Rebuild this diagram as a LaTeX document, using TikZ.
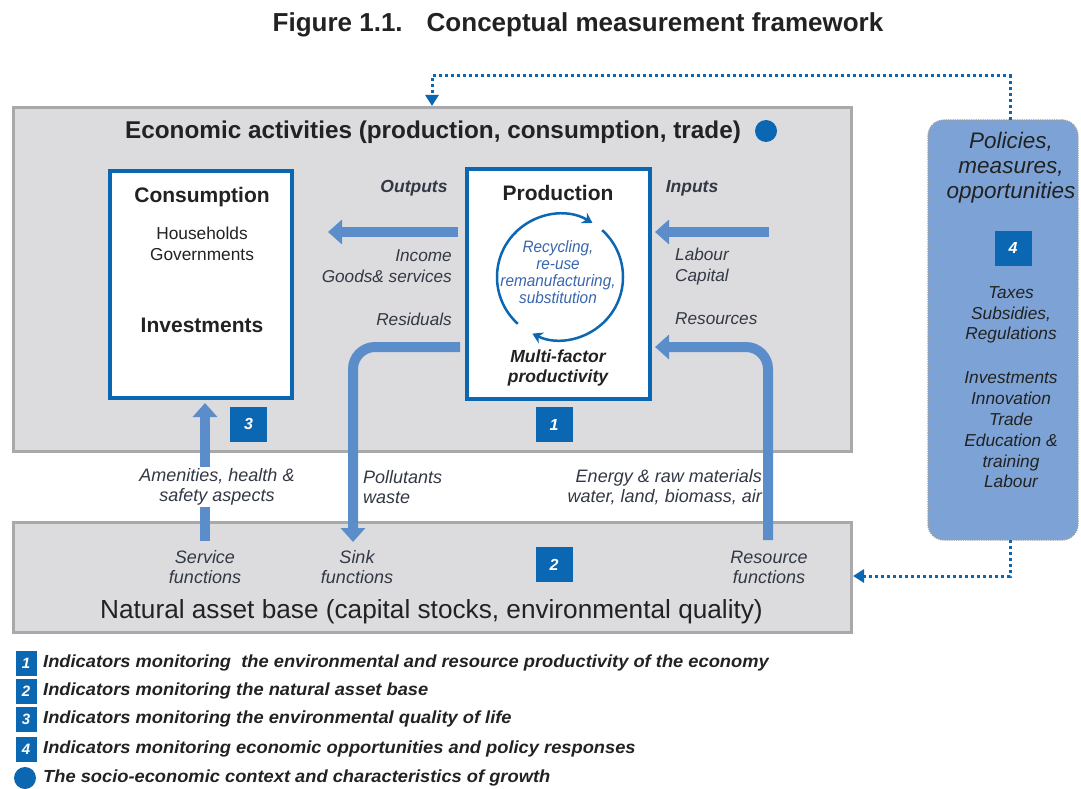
\documentclass[tikz,border=0pt]{standalone}
\usepackage{fontspec}
\setmainfont{Liberation Sans}
\newfontfamily\cnar[FakeStretch=0.93]{Liberation Sans}
\newfontfamily\wid[FakeStretch=1.045]{Liberation Sans}
\usetikzlibrary{arrows.meta,calc}
\definecolor{bggray}{HTML}{DCDCDF}
\definecolor{boxgray}{HTML}{A9A9AB}
\definecolor{darkblue}{HTML}{0B67B2}
\definecolor{lightblue}{HTML}{5A8DCA}
\definecolor{polblue}{HTML}{7DA3D6}
\definecolor{txt}{HTML}{222222}
\definecolor{lbl}{HTML}{333845}
\definecolor{circtxt}{HTML}{3A66AE}
\newcommand\fsz[2]{\fontsize{#1}{#2}\selectfont}
\tikzset{
  bigbox/.style={draw=boxgray, line width=3pt, fill=bggray, inner sep=0},
  unitbox/.style={draw=darkblue, line width=4pt, fill=white, inner sep=0},
  numbox/.style={fill=darkblue, text=white, font=\bfseries\itshape\fsz{16}{16}, minimum width=37pt, minimum height=35pt, inner sep=0},
  legbox/.style={fill=darkblue, text=white, font=\bfseries\itshape\fsz{15}{15}, minimum width=21pt, minimum height=25pt, inner sep=0},
  legtext/.style={anchor=west, font=\bfseries\itshape\wid\fsz{17.5}{19}, text=txt, inner sep=0},
  flow/.style={draw=lightblue, line width=10pt, -{Triangle[width=24pt,length=14pt]}},
  dotline/.style={draw=darkblue, line width=3pt, dash pattern=on 3pt off 3pt, -{Triangle[width=13pt,length=11pt]}},
  circarrow/.style={draw=darkblue, line width=2.5pt, -{Stealth[width=12pt,length=10pt]}},
  lab/.style={font=\itshape\fsz{17.2}{21}, text=lbl, inner sep=1pt},
  labb/.style={font=\itshape\fsz{18}{20}, text=lbl, inner sep=1pt},
  headlab/.style={font=\bfseries\itshape\fsz{17.5}{18}, text=lbl, inner sep=1pt},
  boxhead/.style={font=\bfseries\fsz{21}{22}, text=txt, inner sep=0},
  poltext/.style={font=\itshape\fsz{17.3}{20.8}, text=txt, align=center, inner sep=0}
}
\begin{document}
\begin{tikzpicture}[x=1pt,y=-1pt]
\useasboundingbox (0,0) rectangle (1081,789);

% title
\node[font=\bfseries\fsz{26}{30}, text=txt] (title) at (578,25) {Figure 1.1.\hspace{24pt}Conceptual measurement framework};

% big boxes
\node[bigbox, minimum width=838pt, minimum height=343pt] (econ) at (432,279.5) {};
\node[bigbox, minimum width=838pt, minimum height=110pt] (nat) at (432,577) {};

% policies box
\node[draw=gray!75, densely dotted, line width=1.3pt, fill=polblue, rounded corners=16pt,
      minimum width=150pt, minimum height=420pt, inner sep=0] (pol) at (1003,330) {};

\node[font=\bfseries\fsz{24.3}{28}, text=txt] (econtitle) at (433,132) {Economic activities (production, consumption, trade)};
\node[circle, fill=darkblue, minimum size=22pt, inner sep=0] (dot) at (766,131) {};

% unit boxes
\node[unitbox, minimum width=182pt, minimum height=227pt] (consbox) at (201,284.5) {};
\node[unitbox, minimum width=183pt, minimum height=230pt] (prodbox) at (558.5,284) {};

\node[boxhead] (cons) at (202,197) {Consumption};
\node[font=\fsz{17.3}{20.5}, text=txt, align=center, inner sep=0] (hh) at (202,244) {Households\\Governments};
\node[boxhead] (inv) at (202,325) {Investments};

\node[boxhead] (prod) at (558,193) {Production};
\coordinate (cc) at (560,277);
\draw[circarrow] ($(cc)+(132:63)$) arc[start angle=132, end angle=301, radius=63];
\draw[circarrow] ($(cc)+(312:63)$) arc[start angle=312, end angle=476, radius=63];
\node[font=\cnar\itshape\fsz{16.5}{17}, text=circtxt, align=center, inner sep=0] (rec) at (558,272) {Recycling,\\re-use\\remanufacturing,\\substitution};
\node[font=\bfseries\itshape\fsz{17.5}{20}, text=txt, align=center, inner sep=0] (mfp) at (558,368) {Multi-factor\\productivity};

% numbered boxes
\node[numbox] (n3) at (248.5,424) {3};
\node[numbox] (n1) at (554,424.5) {1};
\node[numbox] (n2) at (554,564.5) {2};
\node[numbox] (n4) at (1013,248) {4};

% flows
\coordinate (outR) at (458,232);
\coordinate (outL) at (328,232);
\coordinate (inR) at (769,232);
\coordinate (inL) at (655,232);
\coordinate (resS) at (460,347);
\coordinate (sink) at (353,542);
\coordinate (srcB) at (768,540);
\coordinate (srcT) at (655,347);
\coordinate (amB) at (205,541);
\coordinate (amT) at (205,403);
\draw[flow] (outR) -- (outL);
\draw[flow] (inR) -- (inL);
\draw[flow, rounded corners=22pt] (resS) -| (sink);
\draw[flow, rounded corners=22pt] (srcB) |- (srcT);
\draw[flow] (amB) -- (amT);

% labels around production
\node[headlab] (outputs) at (414,188) {Outputs};
\node[headlab] (inputs) at (692,188) {Inputs};
\node[lab, anchor=east, align=right] (income) at (453,266.5) {Income\\Goods\& services};
\node[lab, anchor=east] (resid) at (453,319) {Residuals};
\node[lab, anchor=west, align=left] (labour) at (674,266.5) {Labour\\Capital};
\node[lab, anchor=west] (resources) at (674,319) {Resources};

% labels between boxes
\node[labb, fill=white, align=center, inner sep=2pt] (amen) at (217,487) {Amenities, health \&\\safety aspects};
\node[labb, anchor=west, align=left] (poll) at (362,487) {Pollutants\\waste};
\node[labb, anchor=east, align=right] (energy) at (763,487) {Energy \& raw materials\\water, land, biomass, air};

% labels in natural box
\node[labb, align=center] (service) at (205,567) {Service\\functions};
\node[labb, align=center] (sinkf) at (357,567) {Sink\\functions};
\node[labb, align=center] (resf) at (769,567) {Resource\\functions};
\node[font=\fsz{26.2}{30}, text=txt, inner sep=0] (nattitle) at (431.5,612) {Natural asset base (capital stocks, environmental quality)};

% policies text
\node[font=\itshape\fsz{22.5}{25}, text=txt, align=center, inner sep=0] (poltitle) at (1011,168) {Policies,\\measures,\\opportunities};
\node[poltext] (taxes) at (1011,315) {Taxes\\Subsidies,\\Regulations};
\node[poltext] (invest) at (1011,430) {Investments\\Innovation\\Trade\\Education \&\\training\\Labour};

% dotted feedback lines
\coordinate (dA) at (1010,120);
\coordinate (dB) at (1010,76);
\coordinate (dC) at (432,76);
\coordinate (dD) at (432,106);
\draw[dotline] (dA) -- (dB) -- (dC) -- (dD);
\coordinate (eA) at (1010,540);
\coordinate (eB) at (1010,576);
\coordinate (eC) at (853,576);
\draw[dotline] (eA) -- (eB) -- (eC);

% legend
\node[legbox] (l1) at (26,663) {1};
\node[legtext] (t1) at (43,663) {Indicators monitoring\ \ the environmental and resource productivity of the economy};
\node[legbox] (l2) at (26,691) {2};
\node[legtext] (t2) at (43,691) {Indicators monitoring the natural asset base};
\node[legbox] (l3) at (26,719) {3};
\node[legtext] (t3) at (43,719) {Indicators monitoring the environmental quality of life};
\node[legbox] (l4) at (26,749) {4};
\node[legtext] (t4) at (43,749) {Indicators monitoring economic opportunities and policy responses};
\node[circle, fill=darkblue, minimum size=22pt, inner sep=0] (l5) at (25,778) {};
\node[legtext] (t5) at (43,778) {The socio-economic context and characteristics of growth};
\end{tikzpicture}
\end{document}
